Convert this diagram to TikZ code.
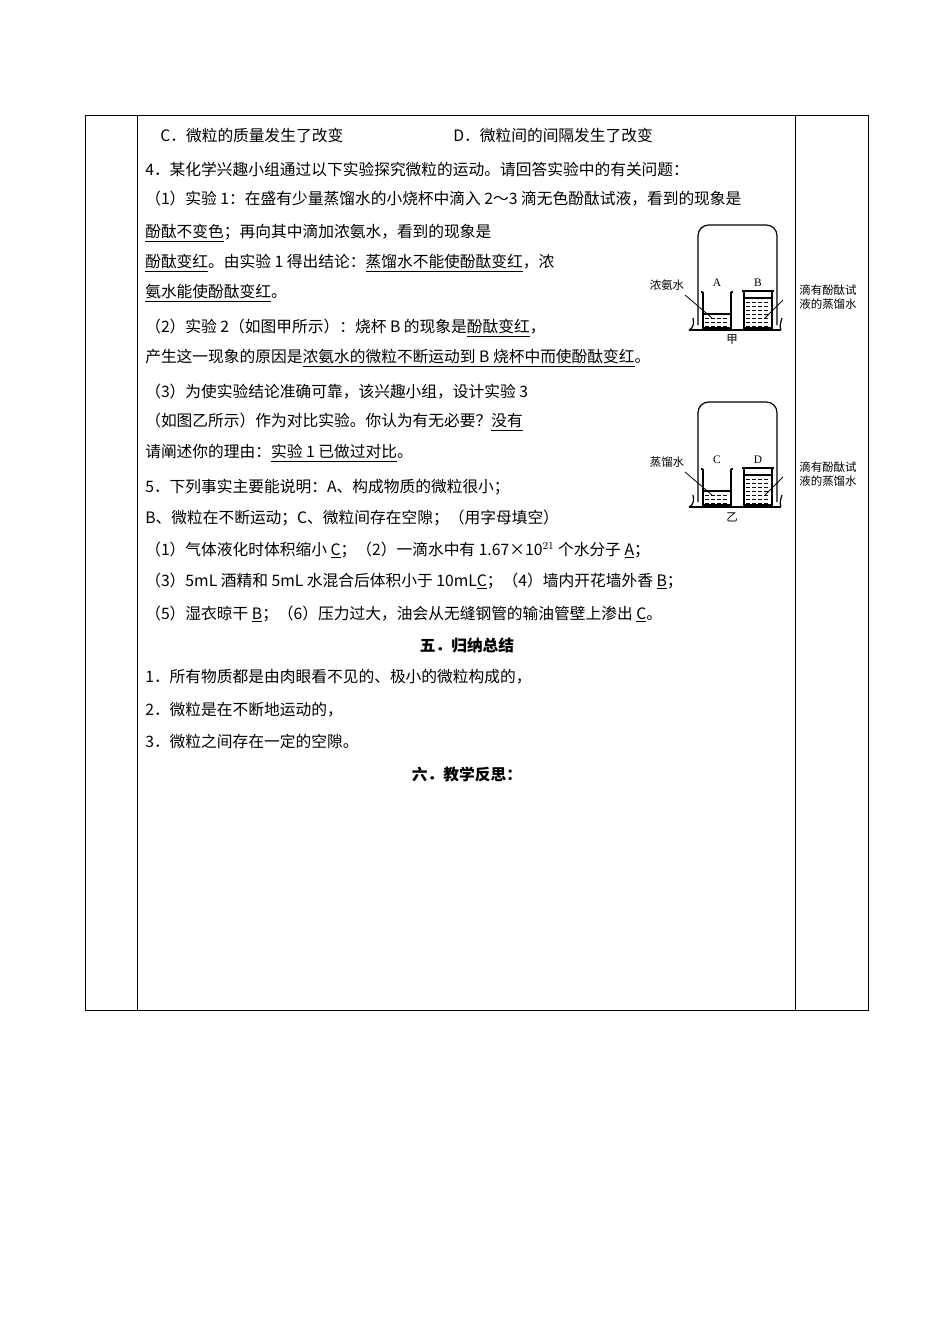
\documentclass[tikz,border=0pt]{standalone}
\usepackage{fontspec}
\setmainfont{Noto Sans CJK SC}
\newfontfamily\lat{Liberation Serif}
\begin{document}
\begin{tikzpicture}[x=0.75pt,y=-0.75pt,
 tl/.style={anchor=west,inner sep=0pt,font=\fontsize{11.8}{13}\selectfont},
 sm/.style={inner sep=0pt,font=\fontsize{8.6}{10}\selectfont,align=left},
 hd/.style={inner sep=0pt,font=\fontsize{11.8}{13}\selectfont\bfseries}]
\useasboundingbox[fill=white] (0,0) rectangle (950,1344);
\draw[line width=0.7pt] (85,115) rectangle (868,1010);
\draw[line width=0.7pt] (137,115) -- (137,1010) (795,115) -- (795,1010);
\node[tl] (l1) at (160,135) {C．微粒的质量发生了改变};
\node[tl] (l1b) at (453,135) {D．微粒间的间隔发生了改变};
\node[tl] (l2) at (145,170) {4．某化学兴趣小组通过以下实验探究微粒的运动。请回答实验中的有关问题：};
\node[tl] (l3) at (145,199) {（1）实验 1：在盛有少量蒸馏水的小烧杯中滴入 2～3 滴无色酚酞试液，看到的现象是};
\node[tl] (l4) at (145,233) {\underline{酚酞不变色}；再向其中滴加浓氨水，看到的现象是};
\node[tl] (l5) at (145,263) {\underline{酚酞变红}。由实验 1 得出结论：\underline{蒸馏水不能使酚酞变红}，浓};
\node[tl] (l6) at (145,293) {\underline{氨水能使酚酞变红}。};
\node[tl] (l7) at (145,328) {（2）实验 2（如图甲所示）：烧杯 B 的现象是\underline{酚酞变红}，};
\node[tl] (l8) at (145,358) {产生这一现象的原因是\underline{浓氨水的微粒不断运动到 B 烧杯中而使酚酞变红}。};
\node[tl] (l9) at (145,392) {（3）为使实验结论准确可靠，该兴趣小组，设计实验 3};
\node[tl] (l10) at (145,422) {（如图乙所示）作为对比实验。你认为有无必要？\underline{没有}};
\node[tl] (l11) at (145,453) {请阐述你的理由：\underline{实验 1 已做过对比}。};
\node[tl] (l12) at (145,487) {5．下列事实主要能说明：A、构成物质的微粒很小；};
\node[tl] (l13) at (145,518) {B、微粒在不断运动；C、微粒间存在空隙；（用字母填空）};
\node[tl] (l14) at (145,550) {（1）气体液化时体积缩小 \underline{C}；（2）一滴水中有 1.67×10$^{21}$ 个水分子 \underline{A}；};
\node[tl] (l15) at (145,581) {（3）5mL 酒精和 5mL 水混合后体积小于 10mL\underline{C}；（4）墙内开花墙外香 \underline{B}；};
\node[tl] (l16) at (145,614) {（5）湿衣晾干 \underline{B}；（6）压力过大，油会从无缝钢管的输油管壁上渗出 \underline{C}。};
\node[hd] (h5) at (467,646) {五．归纳总结};
\node[tl] (l17) at (145,677) {1．所有物质都是由肉眼看不见的、极小的微粒构成的，};
\node[tl] (l18) at (145,710) {2．微粒是在不断地运动的，};
\node[tl] (l19) at (145,741) {3．微粒之间存在一定的空隙。};
\node[hd] (h6) at (467,774) {六．教学反思：};
\foreach \dy/\la/\lb/\lc/\cap in {0/A/B/浓氨水/甲, 177/C/D/蒸馏水/乙} {
 \begin{scope}[yshift=-0.75*\dy pt, line width=0.9pt]
  \draw[rounded corners=8pt] (698,325) -- (698,225) -- (777,225) -- (777,325);
  \draw (689,330) .. controls (694,328) and (694,322) .. (693,318);
  \draw (689,330) -- (781,330);
  \draw (781,330) .. controls (779,326) and (781,322) .. (782,318);
  \draw (703,292) -- (703,328) -- (731,328) -- (731,292);
  \draw (701,292) -- (703,292) (731,292) -- (733,292);
  \draw (703,314) -- (731,314);
  \foreach \yy in {318,322,326} \draw[dash pattern=on 3pt off 1.5pt,line width=0.5pt] (705,\yy) -- (729,\yy);
  \draw (744,291) -- (744,328) -- (772,328) -- (772,291);
  \draw (742,291) -- (774,291);
  \draw (744,298) -- (772,298);
  \foreach \yy in {302,306,310,314,318,322,326} \draw[dash pattern=on 3pt off 1.5pt,line width=0.5pt] (746,\yy) -- (770,\yy);
  \draw[line width=0.6pt] (685,295) -- (712,318);
  \draw[line width=0.6pt] (783,300) -- (765,318);
  \node[sm] at (717,283) {\lat\la};
  \node[sm] at (758,283) {\lat\lb};
  \node[sm] at (667,285) {\lc};
  \node[sm] at (828,297) {滴有酚酞试\\液的蒸馏水};
  \node[sm] at (732,340) {\cap};
 \end{scope}}
\end{tikzpicture}
\end{document}
